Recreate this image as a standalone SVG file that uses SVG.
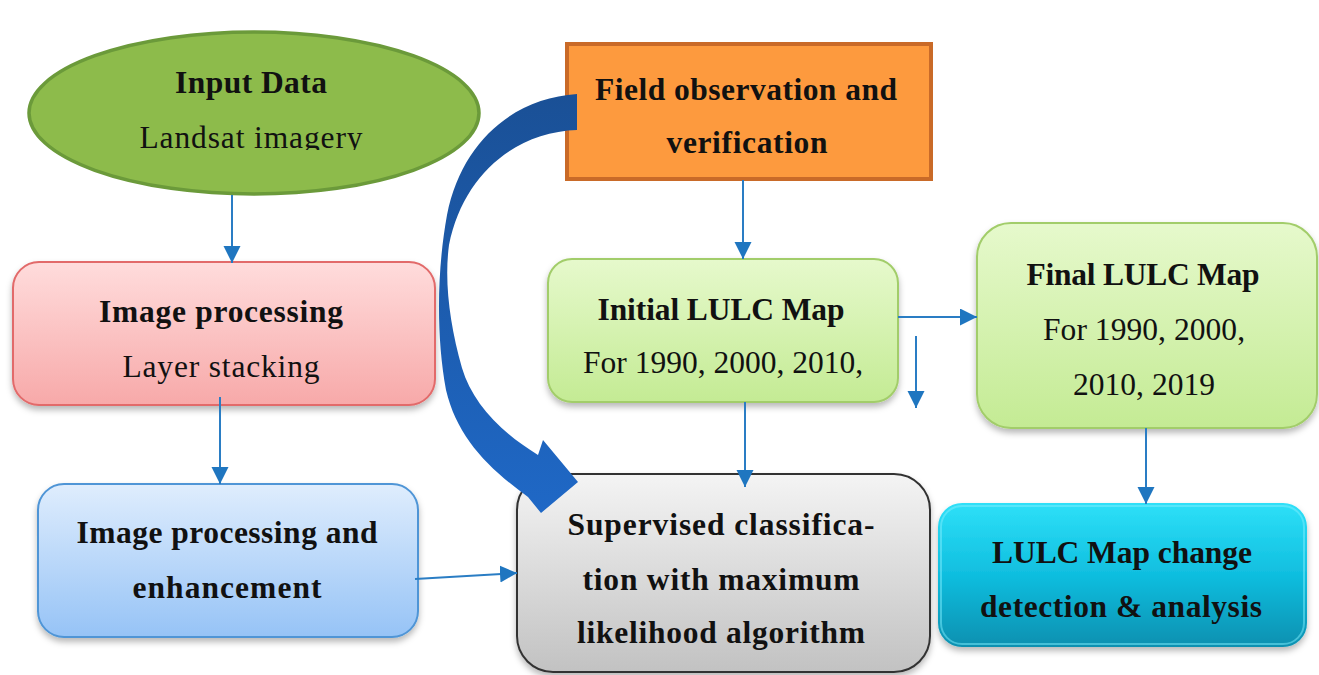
<svg xmlns="http://www.w3.org/2000/svg" width="1319" height="675" viewBox="0 0 1319 675">
  <defs>
    <style>
      .t { font-family: "Liberation Serif", "Times New Roman", serif; font-size: 31.5px; fill: #111; text-anchor: middle; }
      .b { font-weight: bold; }
      .conn { stroke: #2a7dc4; stroke-width: 2; fill: none; marker-end: url(#head); }
    </style>
    <marker id="head" markerUnits="userSpaceOnUse" markerWidth="18" markerHeight="18" refX="17" refY="8.5" orient="auto">
      <path d="M0,0 L17,8.5 L0,17 Z" fill="#1f76c0"/>
    </marker>
    <filter id="shadow" x="-10%" y="-10%" width="120%" height="130%">
      <feDropShadow dx="0" dy="4" stdDeviation="3" flood-color="#000" flood-opacity="0.28"/>
    </filter>
    <linearGradient id="gRed" x1="0" y1="0" x2="0" y2="1">
      <stop offset="0" stop-color="#ffdcdc"/>
      <stop offset="1" stop-color="#f7a9a9"/>
    </linearGradient>
    <linearGradient id="gBlue" x1="0" y1="0" x2="0" y2="1">
      <stop offset="0" stop-color="#dfedfd"/>
      <stop offset="1" stop-color="#96c3f6"/>
    </linearGradient>
    <linearGradient id="gGreen" x1="0" y1="0" x2="0" y2="1">
      <stop offset="0" stop-color="#e6f9cc"/>
      <stop offset="1" stop-color="#c4eb94"/>
    </linearGradient>
    <linearGradient id="gGray" x1="0" y1="0" x2="0" y2="1">
      <stop offset="0" stop-color="#f4f4f4"/>
      <stop offset="1" stop-color="#c2c2c2"/>
    </linearGradient>
    <linearGradient id="gCyan" x1="0" y1="0" x2="0" y2="1">
      <stop offset="0" stop-color="#2ee0f8"/>
      <stop offset="0.5" stop-color="#10bedf"/>
      <stop offset="1" stop-color="#0890b0"/>
    </linearGradient>
    <linearGradient id="gArc" x1="0" y1="0" x2="0" y2="1">
      <stop offset="0" stop-color="#1a5096"/>
      <stop offset="1" stop-color="#1f68c6"/>
    </linearGradient>
    <clipPath id="ellClip">
      <rect x="0" y="0" width="520" height="150"/>
    </clipPath>
  </defs>

  <rect width="1319" height="675" fill="#ffffff"/>

  <!-- input data ellipse -->
  <g id="input-data">
    <ellipse cx="254" cy="113" rx="225" ry="81" fill="#8dbb4b" stroke="#6b9a3a" stroke-width="3.5"/>
    <text class="t b" x="251" y="93" textLength="152">Input Data</text>
    <text class="t" x="251" y="148" textLength="223" clip-path="url(#ellClip)">Landsat imagery</text>
  </g>

  <!-- field observation -->
  <g id="field-observation">
    <rect x="567" y="44" width="364" height="135" fill="#fd9a3e" stroke="#c96a28" stroke-width="4"/>
    <text class="t b" x="746" y="100" textLength="302">Field observation and</text>
    <text class="t b" x="747" y="153" textLength="161">verification</text>
  </g>

  <!-- image processing / layer stacking -->
  <g id="image-processing">
    <rect x="13" y="262" width="422" height="143" rx="26" fill="url(#gRed)" stroke="#e26a6a" stroke-width="2" filter="url(#shadow)"/>
    <text class="t b" x="221" y="322" textLength="244">Image processing</text>
    <text class="t" x="221" y="377" textLength="197">Layer stacking</text>
  </g>

  <!-- image processing and enhancement -->
  <g id="image-enhancement">
    <rect x="38" y="484" width="380" height="153" rx="26" fill="url(#gBlue)" stroke="#4f95d6" stroke-width="2" filter="url(#shadow)"/>
    <text class="t b" x="227" y="543" textLength="301">Image processing and</text>
    <text class="t b" x="227" y="598" textLength="189">enhancement</text>
  </g>

  <!-- initial LULC map -->
  <g id="initial-lulc">
    <rect x="548" y="259" width="350" height="143" rx="24" fill="url(#gGreen)" stroke="#a2cd6a" stroke-width="2" filter="url(#shadow)"/>
    <text class="t b" x="721" y="320" textLength="247">Initial LULC Map</text>
    <text class="t" x="723" y="373" textLength="280">For 1990, 2000, 2010,</text>
  </g>

  <!-- final LULC map -->
  <g id="final-lulc">
    <rect x="977" y="223" width="340" height="205" rx="34" fill="url(#gGreen)" stroke="#a2cd6a" stroke-width="2" filter="url(#shadow)"/>
    <text class="t b" x="1143" y="285" textLength="233">Final LULC Map</text>
    <text class="t" x="1144" y="340" textLength="202">For 1990, 2000,</text>
    <text class="t" x="1144" y="395" textLength="142">2010, 2019</text>
  </g>

  <!-- supervised classification -->
  <g id="supervised">
    <rect x="517" y="474" width="413" height="198" rx="36" fill="url(#gGray)" stroke="#333333" stroke-width="2" filter="url(#shadow)"/>
    <text class="t b" x="721" y="535" textLength="307">Supervised classifica-</text>
    <text class="t b" x="721" y="590" textLength="277">tion with maximum</text>
    <text class="t b" x="721" y="643" textLength="288">likelihood algorithm</text>
  </g>

  <!-- change detection -->
  <g id="change-detection">
    <rect x="938" y="503" width="369" height="144" rx="24" fill="url(#gCyan)" filter="url(#shadow)"/>
    <rect x="941" y="506" width="363" height="138" rx="21" fill="none" stroke="#7eeefe" stroke-opacity="0.5" stroke-width="2"/>
    <text class="t b" x="1122" y="563" textLength="260">LULC Map change</text>
    <text class="t b" x="1121" y="617" textLength="282">detection &amp; analysis</text>
  </g>

  <!-- connectors -->
  <g id="connectors">
    <path class="conn" d="M232,195 L232,263"/>
    <path class="conn" d="M220,397 L220,484"/>
    <path class="conn" d="M415,579 L517,573"/>
    <path class="conn" d="M743,180 L743,259"/>
    <path class="conn" d="M745,402 L745,487"/>
    <path class="conn" d="M898,317 L977,317"/>
    <path class="conn" d="M916,336 L916,408"/>
    <path class="conn" d="M1146,428 L1146,504"/>
    <!-- wide curved arrow from field observation to classification -->
    <path d="M577,94 C515,98 462,140 447,215 C437,270 436,335 446,390 C457,437 488,468 528,497 L541,513 L578,482 L543,440 L538,455 C500,432 472,402 462,368 C450,325 444,282 449,245 C463,175 515,132 577,130 Z" fill="url(#gArc)"/>
  </g>
</svg>
